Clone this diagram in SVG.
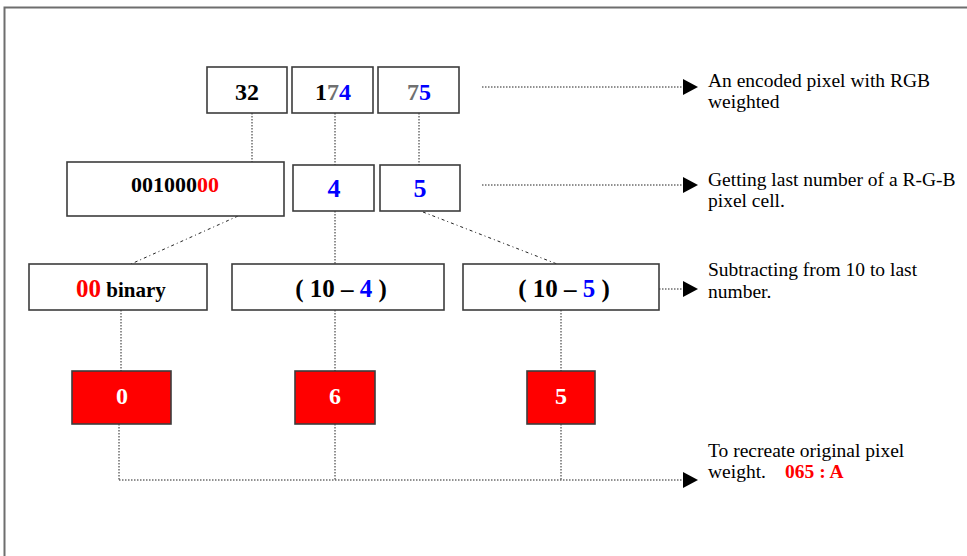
<svg xmlns="http://www.w3.org/2000/svg" width="967" height="556" viewBox="0 0 967 556">
<style>
.box{fill:#ffffff;stroke:#3c3c3c;stroke-width:1.6}
.red{fill:#ff0000;stroke:#3c3c3c;stroke-width:1.6}
.bt{font-family:"Liberation Serif","Times New Roman",serif;font-weight:bold;text-anchor:middle;fill:#000}
.note{font-family:"Liberation Serif","Times New Roman",serif;font-size:19.5px;fill:#000}
.ans{font-family:"Liberation Serif","Times New Roman",serif;font-size:19.5px;font-weight:bold;fill:#ff0000}
.dot{fill:none;stroke:#222;stroke-width:1;stroke-dasharray:1.5 1.5}
.dd{fill:none;stroke:#222;stroke-width:1;stroke-dasharray:3 3 1 3}
.b{fill:#0000ff}
.r{fill:#ff0000}
.g{fill:#707070}
.w{fill:#ffffff}
</style>
<defs>
<marker id="ah" markerUnits="userSpaceOnUse" markerWidth="16" markerHeight="18" refX="0" refY="8" orient="auto">
<polygon points="0,0 15,8 0,16" fill="#000"/>
</marker>
</defs>
<rect x="0" y="0" width="967" height="556" fill="#ffffff"/>
<path d="M4.5,556 V7.5 H967" fill="none" stroke="#6e6e6e" stroke-width="2"/>
<g id="connectors">
<line class="dot" x1="252" y1="113" x2="252" y2="164"/>
<line class="dot" x1="335" y1="113" x2="335" y2="165"/>
<line class="dot" x1="419" y1="113" x2="419" y2="165"/>
<line class="dot" x1="335" y1="211" x2="335" y2="264"/>
<line class="dd" x1="247" y1="212" x2="131" y2="264"/>
<line class="dd" x1="423" y1="212" x2="557" y2="264"/>
<line class="dot" x1="121" y1="310" x2="121" y2="371"/>
<line class="dot" x1="335" y1="310" x2="335" y2="371"/>
<line class="dot" x1="561" y1="310" x2="561" y2="371"/>
<line class="dot" x1="119" y1="424" x2="119" y2="480"/>
<line class="dot" x1="335" y1="424" x2="335" y2="480"/>
<line class="dot" x1="561" y1="424" x2="561" y2="480"/>
<line class="dot" x1="119" y1="480" x2="683" y2="480" marker-end="url(#ah)"/>
<line class="dot" x1="482" y1="87" x2="683" y2="87" marker-end="url(#ah)"/>
<line class="dot" x1="482" y1="185" x2="683" y2="185" marker-end="url(#ah)"/>
<line class="dot" x1="659" y1="289" x2="683" y2="289" marker-end="url(#ah)"/>
</g>
<g id="n32"><rect class="box" x="207" y="67" width="80" height="46"/><text class="bt" x="247" y="100" font-size="24">32</text></g>
<g id="n174"><rect class="box" x="292" y="67" width="81" height="46"/><text class="bt" x="333" y="100" font-size="24">1<tspan class="g">7</tspan><tspan class="b">4</tspan></text></g>
<g id="n75"><rect class="box" x="378" y="67" width="81" height="46"/><text class="bt" x="419" y="100" font-size="24"><tspan class="g">7</tspan><tspan class="b">5</tspan></text></g>
<g id="nbin"><rect class="box" x="67" y="162" width="217" height="54"/><text class="bt" x="175" y="192" font-size="22">001000<tspan class="r">00</tspan></text></g>
<g id="n4"><rect class="box" x="293" y="165" width="81" height="46"/><text class="bt b" x="334" y="197" font-size="26">4</text></g>
<g id="n5"><rect class="box" x="380" y="165" width="80" height="46"/><text class="bt b" x="420" y="197" font-size="26">5</text></g>
<g id="n00"><rect class="box" x="29" y="264" width="178" height="46"/><text class="bt" x="121" y="297" font-size="21"><tspan class="r" font-size="25">00</tspan> binary</text></g>
<g id="nsub4"><rect class="box" x="232" y="264" width="212" height="46"/><text class="bt" x="341" y="297" font-size="25">( 10 – <tspan class="b">4</tspan> )</text></g>
<g id="nsub5"><rect class="box" x="463" y="264" width="196" height="46"/><text class="bt" x="564" y="297" font-size="25">( 10 – <tspan class="b">5</tspan> )</text></g>
<g id="r0"><rect class="red" x="72" y="371" width="99" height="53"/><text class="bt w" x="122" y="404" font-size="24">0</text></g>
<g id="r6"><rect class="red" x="295" y="371" width="80" height="53"/><text class="bt w" x="335" y="404" font-size="24">6</text></g>
<g id="r5"><rect class="red" x="527" y="371" width="68" height="53"/><text class="bt w" x="561" y="404" font-size="24">5</text></g>
<g id="note1"><text class="note" x="708" y="87">An encoded pixel with RGB</text><text class="note" x="708" y="108">weighted</text></g>
<g id="note2"><text class="note" x="708" y="186">Getting last number of a R-G-B</text><text class="note" x="708" y="207">pixel cell.</text></g>
<g id="note3"><text class="note" x="708" y="276">Subtracting from 10 to last</text><text class="note" x="708" y="298">number.</text></g>
<g id="note4"><text class="note" x="708" y="457">To recreate original pixel</text><text class="note" x="708" y="478">weight.</text><text class="ans" x="785" y="478">065 : A</text></g>
</svg>
